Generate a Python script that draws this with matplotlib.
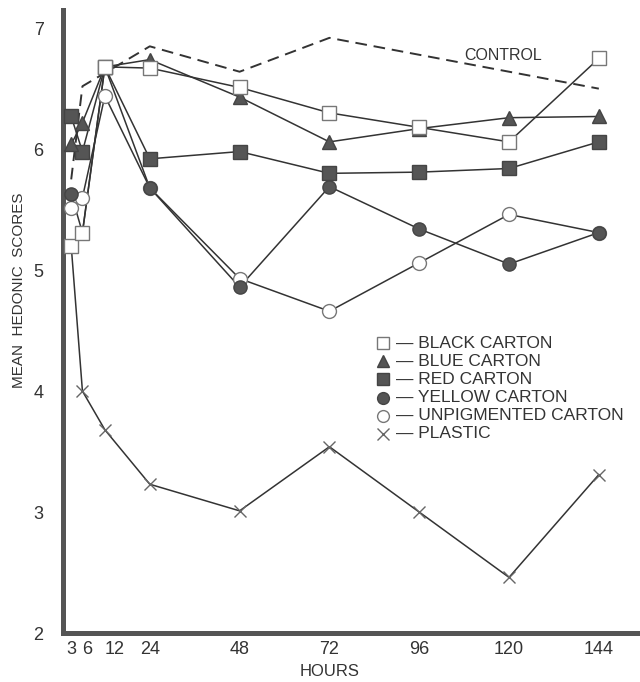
import numpy as np
import matplotlib
matplotlib.use("Agg")
from matplotlib import pyplot as plt

plt.rcParams['font.family'] = ['Liberation Sans', 'DejaVu Sans']

## data
hours = [3, 6, 12, 24, 48, 72, 96, 120, 144]
black = [5.20, 5.31, 6.68, 6.67, 6.51, 6.30, 6.18, 6.06, 6.75]
blue = [6.04, 6.22, 6.68, 6.74, 6.43, 6.06, 6.17, 6.26, 6.27]
red = [6.27, 5.98, 6.68, 5.92, 5.98, 5.80, 5.81, 5.84, 6.06]
yellow = [5.63, 5.31, 6.68, 5.68, 4.86, 5.69, 5.34, 5.05, 5.31]
unpig = [5.51, 5.60, 6.44, 5.68, 4.93, 4.66, 5.06, 5.46, 5.31]
plastic = [5.20, 4.00, 3.68, 3.23, 3.01, 3.54, 3.00, 2.46, 3.31]

control_hours = [3, 6, 24, 48, 72, 144]
control = [5.75, 6.52, 6.85, 6.64, 6.92, 6.50]

xticks = [3, 6, 12, 24, 48, 72, 96, 120, 144]
yticks = [2, 3, 4, 5, 6, 7]

linecol = "#333333"
dark = "#555555"
W, H = 640, 682

def fx(px):
    return px / W

def fy(py):
    return 1 - py / H

fig = plt.figure(figsize=(6.4, 6.82), dpi=100)
ax = fig.add_axes([0.0984, 0.0718, 0.9016, 0.9135])

# control (dashed, no markers)
ax.plot(control_hours, control, color=linecol, linestyle=(0, (6, 3.5)), linewidth=1.4)
ax.text(108, 6.77, "CONTROL", fontsize=11.5, color=linecol, va="center", ha="left")

# series: (values, marker, facecolor, edgecolor, size, label)
series = [
    (plastic, "x", "none", "#666666", 9, "PLASTIC"),
    (unpig, "o", "white", "#777777", 10, "UNPIGMENTED CARTON"),
    (yellow, "o", dark, "#444444", 9.5, "YELLOW CARTON"),
    (red, "s", dark, "#444444", 9.5, "RED CARTON"),
    (blue, "^", dark, "#444444", 9.5, "BLUE CARTON"),
    (black, "s", "white", "#777777", 10, "BLACK CARTON"),
]
style = {}
for vals, mk, fc, ec, ms, lab in series:
    ax.plot(hours, vals, color=linecol, linewidth=1.1, zorder=2)
    ax.plot(hours, vals, linestyle="none", marker=mk, markersize=ms,
            markerfacecolor=fc, markeredgecolor=ec, markeredgewidth=1.0, zorder=3)
    style[lab] = (mk, fc, ec)

# key, laid out by hand like the original
order = ["BLACK CARTON", "BLUE CARTON", "RED CARTON", "YELLOW CARTON",
         "UNPIGMENTED CARTON", "PLASTIC"]
for i, lab in enumerate(order):
    py = 343 + i * 18.2
    mk, fc, ec = style[lab]
    ax.plot([fx(383)], [fy(py)], transform=fig.transFigure, clip_on=False,
            linestyle="none", marker=mk, markersize=8.5,
            markerfacecolor=fc, markeredgecolor=ec, markeredgewidth=1.0)
    fig.text(fx(396), fy(py), "\u2014 " + lab, fontsize=12.5, color=linecol,
             ha="left", va="center")

# axes
ax.set_xlim(0.8, 155)
ax.set_ylim(2, 7.15)
ax.set_xticks(xticks)
ax.set_yticks(yticks)
ax.tick_params(length=0, labelsize=13, labelcolor=linecol)
ax.tick_params(axis="y", pad=14)
ax.tick_params(axis="x", pad=6)
# 3, 6 and 12 sit very close; spread them out a little as in the original
ax.get_xticklabels()[1].set_horizontalalignment("left")
ax.get_xticklabels()[2].set_horizontalalignment("left")
for s in ("top", "right"):
    ax.spines[s].set_visible(False)
for s in ("left", "bottom"):
    ax.spines[s].set_linewidth(3.6)
    ax.spines[s].set_color("#555555")

fig.text(fx(330), fy(671), "HOURS", fontsize=12, color=linecol,
         ha="center", va="center")
fig.text(fx(19), fy(290), "MEAN  HEDONIC  SCORES", fontsize=11, color=linecol,
         ha="center", va="center", rotation=90)

plt.savefig("out.png", dpi=100)
